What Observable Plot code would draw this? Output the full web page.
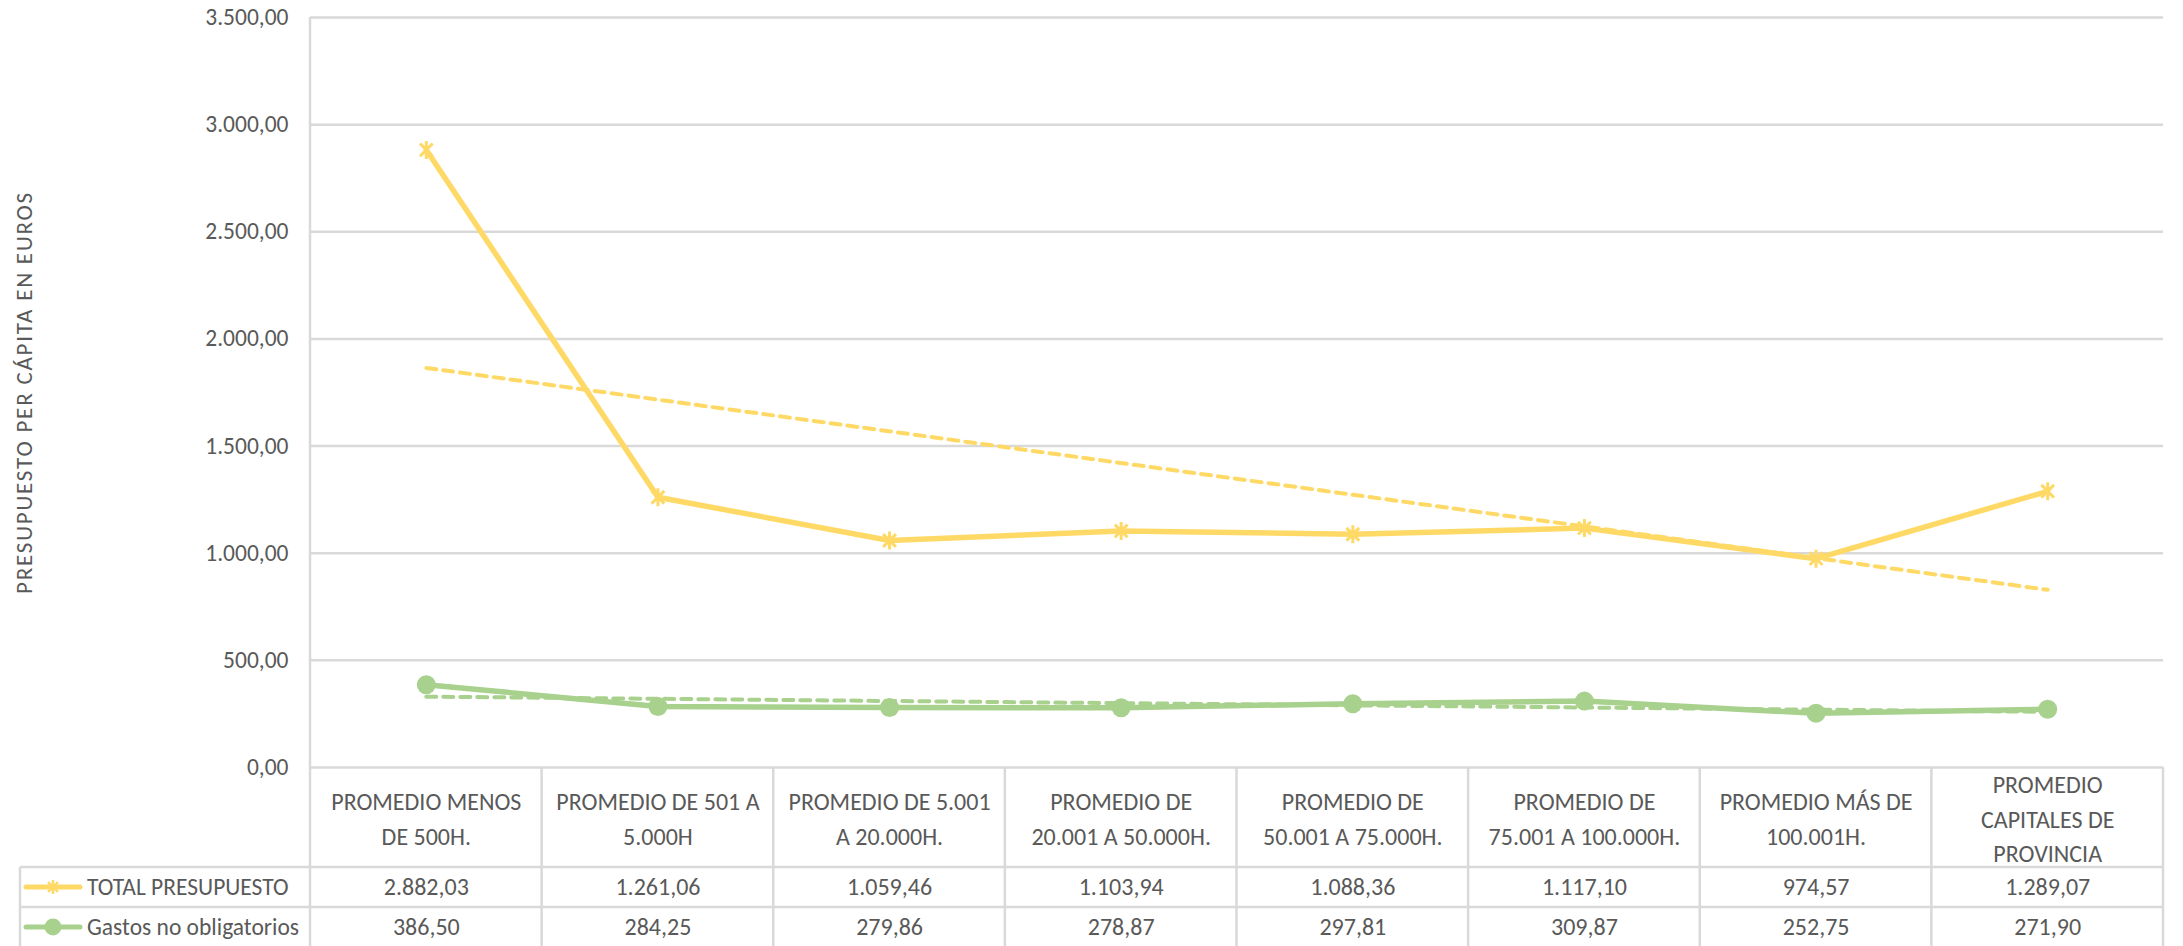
<!DOCTYPE html>
<html>
<head>
<meta charset="utf-8">
<script src="https://cdn.jsdelivr.net/npm/d3@7"></script>
<script src="https://cdn.jsdelivr.net/npm/@observablehq/plot@0.6"></script>
<style>
  html, body { margin: 0; padding: 0; background: #fff; }
  #chart { width: 2183px; height: 946px; overflow: hidden; }
</style>
</head>
<body>
<div id="chart"></div>
<script>
// ---- data ----
const categories = [
  "PROMEDIO MENOS\nDE 500H.",
  "PROMEDIO DE 501 A\n5.000H",
  "PROMEDIO DE 5.001\nA 20.000H.",
  "PROMEDIO DE\n20.001 A 50.000H.",
  "PROMEDIO DE\n50.001 A 75.000H.",
  "PROMEDIO DE\n75.001 A 100.000H.",
  "PROMEDIO MÁS DE\n100.001H.",
  "PROMEDIO\nCAPITALES DE\nPROVINCIA"
];
const totalPresupuesto = [2882.03, 1261.06, 1059.46, 1103.94, 1088.36, 1117.10, 974.57, 1289.07];
const gastosNoObligatorios = [386.50, 284.25, 279.86, 278.87, 297.81, 309.87, 252.75, 271.90];
const seriesNames = ["TOTAL PRESUPUESTO", "Gastos no obligatorios"];
const yTicks = [0, 500, 1000, 1500, 2000, 2500, 3000, 3500];
const yTitle = "PRESUPUESTO PER CÁPITA EN EUROS";

// ---- styling ----
const YELLOW = "#FFD966";
const GREEN = "#A9D18E";
const TEXT = "#595959";
const GRID = "#D9D9D9";
const FONT = "Carlito, Calibri, 'Liberation Sans Narrow', Lato, sans-serif";

const locale = d3.formatLocale({decimal: ",", thousands: ".", grouping: [3], currency: ["", " €"]});
const fmt = locale.format(",.2f");

const rows = (vals, s) => vals.map((v, k) => ({i: k + 1, v, series: s, cat: categories[k]}));
const totalRows = rows(totalPresupuesto, seriesNames[0]);
const gastosRows = rows(gastosNoObligatorios, seriesNames[1]);

// star marker like Excel's (X plus vertical bar)
const starSymbol = {
  draw(context, size) {
    const r = Math.sqrt(size / Math.PI);
    const d = r * Math.SQRT1_2;
    context.moveTo(0, -r); context.lineTo(0, r);
    context.moveTo(-d, -d); context.lineTo(d, d);
    context.moveTo(-d, d); context.lineTo(d, -d);
  }
};

const headerH = 100, rowH = 40;

function tableMark(index, scales, values, dimensions) {
  const {x, y} = scales;
  const g = d3.create("svg:g").attr("stroke", GRID).attr("stroke-width", 2.5).attr("fill", "none");
  const y0 = y(0);
  const H = dimensions.height;
  const xl = x(0.5), xr = x(categories.length + 0.5);
  const tableLeft = 20;
  // left axis line, full height
  g.append("line").attr("x1", xl).attr("x2", xl).attr("y1", y(yTicks[yTicks.length - 1])).attr("y2", H);
  // column separators
  for (let k = 1; k <= categories.length; ++k) {
    const xx = x(k + 0.5);
    g.append("line").attr("x1", xx).attr("x2", xx).attr("y1", y0).attr("y2", H);
  }
  // horizontal table lines
  [y0 + headerH, y0 + headerH + rowH].forEach(yy => {
    g.append("line").attr("x1", tableLeft).attr("x2", xr).attr("y1", yy).attr("y2", yy);
  });
  g.append("line").attr("x1", tableLeft).attr("x2", tableLeft).attr("y1", y0 + headerH).attr("y2", H);
  // legend keys
  const colors = [YELLOW, GREEN];
  seriesNames.forEach((name, r) => {
    const cy = y0 + headerH + rowH * r + rowH / 2;
    const key = d3.create("svg:g");
    key.append("line").attr("x1", 26).attr("x2", 80).attr("y1", cy).attr("y2", cy)
      .attr("stroke", colors[r]).attr("stroke-width", 5).attr("stroke-linecap", "round");
    if (r === 0) {
      key.append("path").attr("transform", `translate(53,${cy})`)
        .attr("d", d3.symbol(starSymbol, 7 * 7 * Math.PI)())
        .attr("stroke", colors[r]).attr("stroke-width", 2.5).attr("fill", "none");
    } else {
      key.append("circle").attr("cx", 53).attr("cy", cy).attr("r", 8.5).attr("fill", colors[r]).attr("stroke", "none");
    }
    key.append("text").attr("x", 87).attr("y", cy).attr("dy", "0.35em")
      .attr("text-anchor", "start")
      .attr("fill", TEXT).attr("stroke", "none").attr("font-size", 23.5).text(name);
    g.append(() => key.node());
  });
  return g.node();
}

const chart = Plot.plot({
  width: 2183,
  height: 946,
  marginTop: 17,
  marginBottom: 179,
  marginLeft: 310,
  marginRight: 20,
  style: {fontFamily: FONT, color: TEXT, background: "#fff", overflow: "visible"},
  x: {domain: [0.5, categories.length + 0.5], axis: null},
  y: {domain: [0, 3500], axis: null},
  marks: [
    Plot.gridY(yTicks, {stroke: GRID, strokeOpacity: 1, strokeWidth: 2.5}),
    Plot.axisY(yTicks, {tickFormat: fmt, tickSize: 0, tickPadding: 22, fontSize: 23.5, label: null}),
    Plot.text([yTitle], {frameAnchor: "left", textAnchor: "middle", rotate: -90, dx: -286, fontSize: 23, fill: TEXT, text: d => d}),
    tableMark,
    // table header labels
    Plot.text(totalRows, {x: "i", text: "cat", frameAnchor: "bottom", dy: 49, lineAnchor: "middle", lineHeight: 1.45, fontSize: 24, fill: TEXT}),
    // table values
    Plot.text(totalRows, {x: "i", text: d => fmt(d.v), frameAnchor: "bottom", dy: headerH + rowH / 2, lineAnchor: "middle", fontSize: 24, fill: TEXT}),
    Plot.text(gastosRows, {x: "i", text: d => fmt(d.v), frameAnchor: "bottom", dy: headerH + rowH * 1.5, lineAnchor: "middle", fontSize: 24, fill: TEXT}),
    // trendlines
    Plot.linearRegressionY(totalRows, {x: "i", y: "v", stroke: YELLOW, strokeWidth: 4, strokeDasharray: "10,7", ci: 0}),
    Plot.linearRegressionY(gastosRows, {x: "i", y: "v", stroke: GREEN, strokeWidth: 4, strokeDasharray: "10,7", ci: 0}),
    // series lines
    Plot.line(totalRows, {x: "i", y: "v", stroke: YELLOW, strokeWidth: 5.5}),
    Plot.line(gastosRows, {x: "i", y: "v", stroke: GREEN, strokeWidth: 5.5}),
    Plot.dot(totalRows, {x: "i", y: "v", symbol: starSymbol, r: 9, stroke: YELLOW, strokeWidth: 3, fill: "none"}),
    Plot.dot(gastosRows, {x: "i", y: "v", r: 9.5, fill: GREEN, stroke: "none"})
  ]
});
// letter-spacing for the axis title
d3.select(chart).selectAll("text").filter(function () { return this.textContent === yTitle; })
  .attr("letter-spacing", "1.8px");
document.getElementById("chart").append(chart);
</script>
</body>
</html>
